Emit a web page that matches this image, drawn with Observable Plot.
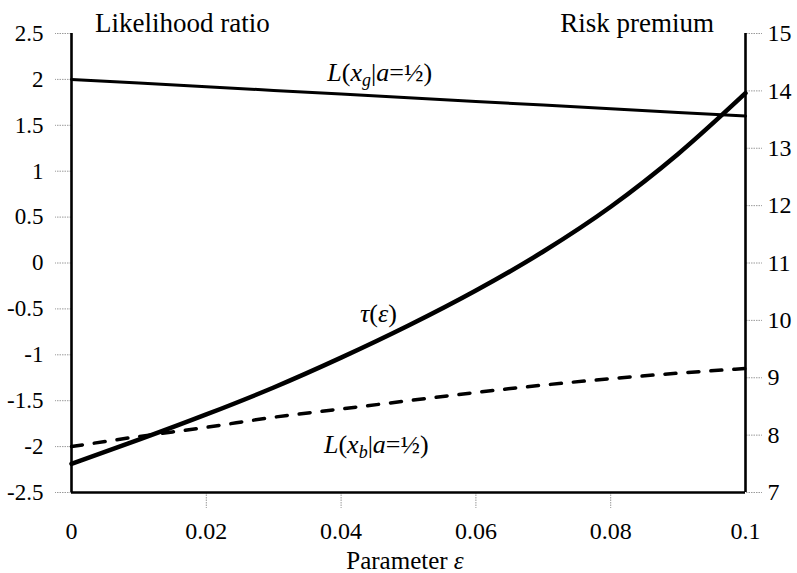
<!DOCTYPE html>
<html>
<head>
<meta charset="utf-8">
<script src="https://cdn.jsdelivr.net/npm/d3@7"></script>
<script src="https://cdn.jsdelivr.net/npm/@observablehq/plot@0.6"></script>
<style>
  html, body { margin: 0; padding: 0; background: #fff; }
  #chart { width: 797px; height: 573px; }
  html body #chart svg text, html body #chart svg tspan { font-family: 'Liberation Serif', serif !important; }
</style>
</head>
<body>
<div id="chart"></div>
<script>
// ---- data ----
const epsilon = [0, 0.01, 0.02, 0.03, 0.04, 0.05, 0.06, 0.07, 0.08, 0.09, 0.1];
const likelihoodGood = [2.00, 1.96, 1.92, 1.88, 1.84, 1.80, 1.76, 1.72, 1.68, 1.64, 1.60];
const likelihoodBad = [-2.00, -1.89, -1.79, -1.68, -1.59, -1.50, -1.41, -1.33, -1.26, -1.20, -1.15];
const riskPremium = [7.50, 7.92, 8.36, 8.83, 9.35, 9.91, 10.52, 11.20, 11.98, 12.90, 13.96];

const leftTicks = [-2.5, -2, -1.5, -1, -0.5, 0, 0.5, 1, 1.5, 2, 2.5];
const rightTicks = [7, 8, 9, 10, 11, 12, 13, 14, 15];
const xTicks = [0, 0.02, 0.04, 0.06, 0.08, 0.1];

// right axis (risk premium) mapped onto the left scale
const toLeft = d3.scaleLinear([7, 15], [-2.5, 2.5]);

const good = epsilon.map((e, i) => ({e, v: likelihoodGood[i]}));
const bad = epsilon.map((e, i) => ({e, v: likelihoodBad[i]}));
const tau = epsilon.map((e, i) => ({e, v: toLeft(riskPremium[i])}));

const FONT = "'Liberation Serif', serif";
const tickStyle = {stroke: "#9a9a9a", strokeDasharray: "1.5,1", strokeWidth: 1};

const plot = Plot.plot({
  width: 797,
  height: 573,
  marginLeft: 71,
  marginRight: 52,
  marginTop: 33,
  marginBottom: 81,
  style: {fontSize: "24px", background: "#fff", color: "#000"},
  x: {domain: [0, 0.1]},
  y: {domain: [-2.5, 2.5]},
  marks: [
    // left axis
    Plot.axisY(leftTicks, {anchor: "left", tickSize: 16, tickPadding: 12, ...tickStyle,
      fill: "#000", fontSize: 23, tickFormat: d => String(d), label: null}),
    // right axis
    Plot.axisY(rightTicks.map(toLeft), {anchor: "right", tickSize: 16, tickPadding: 6, ...tickStyle,
      fill: "#000", fontSize: 24, tickFormat: d => String(Math.round(toLeft.invert(d))), label: null}),
    // x tick stubs
    Plot.axisX(xTicks.slice(1, -1), {anchor: "bottom", tickSize: 16, ...tickStyle, tickFormat: () => "", label: null}),
    // x tick labels
    Plot.axisX(xTicks, {anchor: "bottom", tickSize: 0, tickPadding: 29, fill: "#000", fontSize: 24,
      tickFormat: d => String(d), label: null}),
    // frame lines
    Plot.ruleX([0, 0.1], {y1: -2.5, y2: 2.5, stroke: "#000", strokeWidth: 2.6}),
    Plot.ruleY([-2.5], {x1: 0, x2: 0.1, stroke: "#000", strokeWidth: 2.6}),
    // series
    Plot.line(good, {x: "e", y: "v", stroke: "#000", strokeWidth: 3}),
    Plot.line(bad, {x: "e", y: "v", stroke: "#000", strokeWidth: 3.5, strokeDasharray: "11,12", curve: "monotone-x"}),
    Plot.line(tau, {x: "e", y: "v", stroke: "#000", strokeWidth: 4.5, curve: "monotone-x"})
  ]
});

document.getElementById("chart").appendChild(plot);

const svg = d3.select(plot);
const sx = plot.scale("x");
const sy = plot.scale("y");

// series labels with sub-scripts
function label(e, v, parts) {
  const t = svg.append("text")
    .attr("x", sx.apply(e)).attr("y", sy.apply(v))
    .attr("text-anchor", "middle")
    .attr("font-size", 26).attr("fill", "#000");
  parts.forEach(p => {
    const ts = t.append("tspan").text(p.t);
    if (p.i) ts.attr("font-style", "italic");
    if (p.sub) ts.attr("baseline-shift", "-30%").attr("font-size", 18);
  });
}
label(0.0458, 1.978, [{t: "L", i: 1}, {t: "("}, {t: "x", i: 1}, {t: "g", i: 1, sub: 1}, {t: "|"}, {t: "a", i: 1}, {t: "=½)"}]);
label(0.0456, -0.648, [{t: "τ", i: 1}, {t: "("}, {t: "ε", i: 1}, {t: ")"}]);
label(0.0453, -2.075, [{t: "L", i: 1}, {t: "("}, {t: "x", i: 1}, {t: "b", i: 1, sub: 1}, {t: "|"}, {t: "a", i: 1}, {t: "=½)"}]);

// axis titles
function title(x, y, anchor, size, parts) {
  const t = svg.append("text").attr("x", x).attr("y", y).attr("text-anchor", anchor)
    .attr("font-size", size).attr("fill", "#000");
  parts.forEach(p => { const ts = t.append("tspan").text(p.t); if (p.i) ts.attr("font-style", "italic"); });
}
title(95, 32, "start", 27, [{t: "Likelihood ratio"}]);
title(714, 32, "end", 27, [{t: "Risk premium"}]);
title(405, 569, "middle", 25, [{t: "Parameter "}, {t: "ε", i: 1}]);

// ask for the serif face on the svg and every text in it
svg.style("font-family", FONT, "important");
svg.selectAll("text, tspan").style("font-family", FONT, "important");
</script>
</body>
</html>
